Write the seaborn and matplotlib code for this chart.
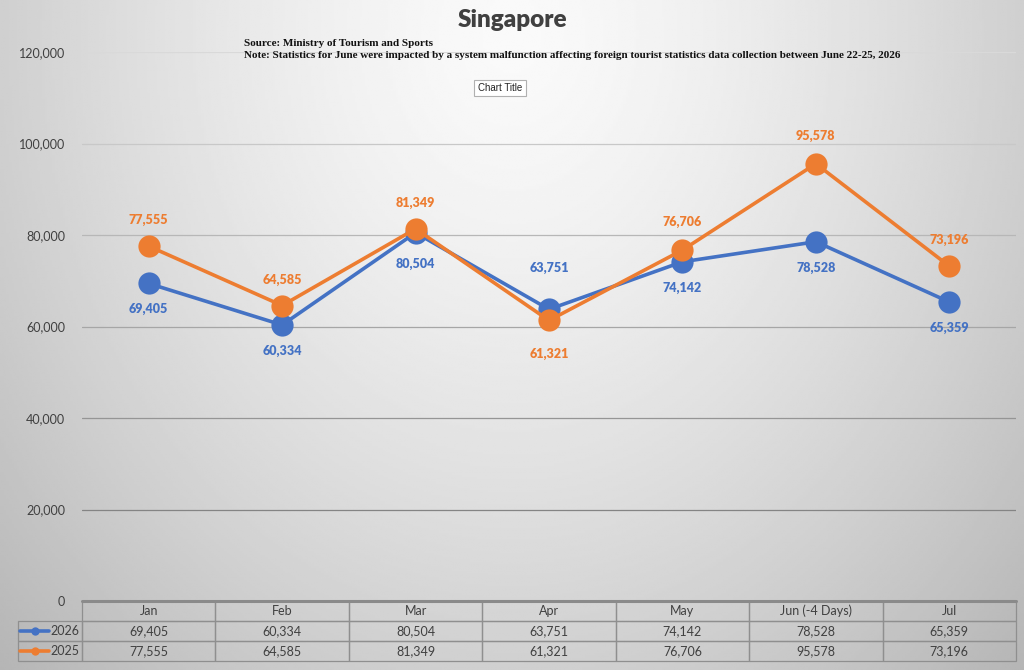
import numpy as np
import pandas as pd
import matplotlib.pyplot as plt
import seaborn as sns

months = ['Jan', 'Feb', 'Mar', 'Apr', 'May', 'Jun (-4 Days)', 'Jul']
visitors_2026 = [69405, 60334, 80504, 63751, 74142, 78528, 65359]
visitors_2025 = [77555, 64585, 81349, 61321, 76706, 95578, 73196]
years = ['2026', '2025']

blue = '#4472C4'
orange = '#ED7D31'
text_grey = '#404040'

sns.set_theme(style='white')
plt.rcParams['font.family'] = ['Lato', 'DejaVu Sans']

df = pd.DataFrame({
    'month': months * 2,
    'visitors': visitors_2026 + visitors_2025,
    'year': ['2026'] * len(months) + ['2025'] * len(months),
})

W, H = 1024, 670
fig = plt.figure(figsize=(W / 100, H / 100), dpi=100)

# soft grey gradient background like the excel chart area
bg = fig.add_axes([0, 0, 1, 1], zorder=0)
gx, gy = np.meshgrid(np.linspace(-1, 1, 400), np.linspace(0, 1, 300))
r = np.sqrt((gx / 1.1) ** 2 + ((gy - 0.05) / 1.05) ** 2)
grad = 0.98 - 0.19 * np.clip(r, 0, 1.3) ** 1.4
bg.imshow(grad, cmap='gray', vmin=0, vmax=1, aspect='auto', extent=[0, 1, 0, 1],
          origin='upper', interpolation='bilinear')
bg.axis('off')

# plot area
left, right, top, bottom = 82, 1016, 52, 601
ax = fig.add_axes([left / W, (H - bottom) / H, (right - left) / W, (bottom - top) / H], zorder=1)
ax.patch.set_alpha(0)

sns.lineplot(data=df, x='month', y='visitors', hue='year', hue_order=years,
             palette=[blue, orange], marker='o', markersize=16, markeredgewidth=0,
             linewidth=2.6, sort=False, legend=False, ax=ax, zorder=3)

yticks = list(range(0, 120001, 20000))
ax.set_xlim(-0.5, len(months) - 0.5)
ax.set_ylim(0, 120000)
ax.set_yticks(yticks)
ax.set_yticklabels([f'{v:,}' for v in yticks], color=text_grey, fontsize=9)
ax.tick_params(axis='y', length=0, pad=12)
ax.set_xticks([])
ax.set_xlabel('')
ax.set_ylabel('')
for s in ax.spines.values():
    s.set_visible(False)

# gridlines look lighter near the top of the chart
for v in yticks[1:]:
    g = 0.45 + 0.4 * v / 120000
    ax.axhline(v, color=(g, g, g), linewidth=0.9, zorder=1)

# data labels (offsets in px, + above / - below)
offs_2026 = [-25, -26, -31, 41, -26, -26, -26]
offs_2025 = [26, 26, 26, -33, 28, 28, 26]
for i in range(len(months)):
    ax.annotate(f'{visitors_2026[i]:,}', (i, visitors_2026[i]), xytext=(0, offs_2026[i] * 0.72),
                textcoords='offset points', ha='center', va='center', color=blue,
                fontsize=9, fontweight='heavy', zorder=5)
    ax.annotate(f'{visitors_2025[i]:,}', (i, visitors_2025[i]), xytext=(0, offs_2025[i] * 0.72),
                textcoords='offset points', ha='center', va='center', color=orange,
                fontsize=9, fontweight='heavy', zorder=5)

# data table under the plot
aw = right - left
ah = bottom - top
lab_w = 64
rows = [[''] + months,
        [''] + [f'{v:,}' for v in visitors_2026],
        [''] + [f'{v:,}' for v in visitors_2025]]
col_w = [lab_w] + [aw / len(months)] * len(months)
tbl = ax.table(cellText=rows, colWidths=[c / (aw + lab_w) for c in col_w], cellLoc='center',
               bbox=[-lab_w / aw, -60 / ah, (aw + lab_w) / aw, 60 / ah])
tbl.auto_set_font_size(False)
for (rr, cc), cell in tbl.get_celld().items():
    cell.set_facecolor('none')
    cell.set_edgecolor('#8f8f8f')
    cell.set_linewidth(0.9)
    cell.get_text().set_color(text_grey)
    cell.get_text().set_fontsize(9)
    if rr == 0 and cc == 0:
        cell.visible_edges = ''
ax.axhline(0, color='#8a8a8a', linewidth=2.2, zorder=4, clip_on=False)

# legend keys in the table row labels
for k, (yr, col) in enumerate(zip(years, [blue, orange])):
    yc = (bottom - (631 + 20 * k)) / ah
    ax.plot([(20 - left) / aw, (49 - left) / aw], [yc, yc], color=col, lw=2.6,
            transform=ax.transAxes, clip_on=False, zorder=5)
    ax.plot([(35 - left) / aw], [yc], 'o', color=col, ms=6, mew=0,
            transform=ax.transAxes, clip_on=False, zorder=5)
    ax.text((79 - left) / aw, yc, yr, ha='right', va='center', color=text_grey,
            fontsize=9, transform=ax.transAxes)

# titles and notes
fig.text(512 / W, 1 - 20 / H, 'Singapore', ha='center', va='center', fontsize=17.5,
         fontweight='heavy', color=text_grey)
fig.text(244 / W, 1 - 44 / H, 'Source: Ministry of Tourism and Sports', ha='left', va='center',
         fontsize=8, fontweight='bold', family=['Liberation Serif'], color='#111111')
fig.text(244 / W, 1 - 56 / H,
         'Note: Statistics for June were impacted by a system malfunction affecting foreign '
         'tourist statistics data collection between June 22-25, 2026',
         ha='left', va='center', fontsize=8, fontweight='bold', family=['Liberation Serif'],
         color='#111111')
fig.text(500 / W, 1 - 88 / H, 'Chart Title', ha='center', va='center', fontsize=7,
         color='#222222', family=['Liberation Sans'],
         bbox=dict(boxstyle='square,pad=0.35', fc='white', ec='#b0b0b0', lw=0.8))

fig.savefig('out.png', dpi=100)
